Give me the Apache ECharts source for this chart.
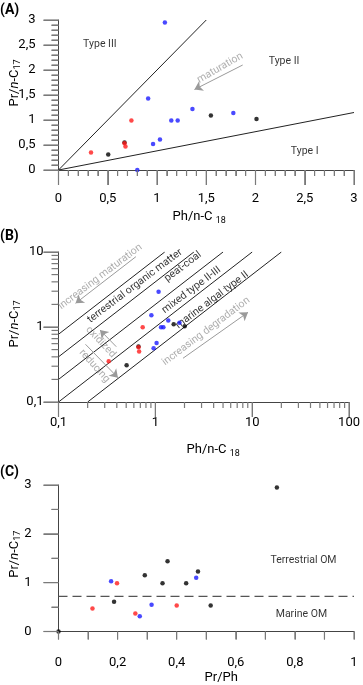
<!DOCTYPE html>
<html>
<head>
<meta charset="utf-8">
<script src="https://cdn.jsdelivr.net/npm/echarts@6/dist/echarts.min.js"></script>
<style>
  html, body { margin: 0; background: #fff; }
  #chart { width: 363px; height: 685px; }
</style>
</head>
<body>
<div id="chart"></div>
<script>
const FONT = 'Roboto';
const GRAY = '#9a9a9a';

// Ph/n-C18 vs Pr/n-C17 (panels A and B)
const blueA = [[1.08, 2.95], [0.91, 1.43], [1.36, 1.22], [1.145, 0.99], [1.21, 0.99],
  [1.775, 1.14], [1.03, 0.61], [0.96, 0.52], [0.80, 0.0]];
const redA = [[0.33, 0.35], [0.67, 0.535], [0.68, 0.47], [0.74, 0.99]];
const blackA = [[0.505, 0.31], [0.67, 0.55], [1.547, 1.09], [2.01, 1.02]];

// Pr/Ph vs Pr/n-C17 (panel C)
const blackC = [[0, 0], [0.188, 0.61], [0.292, 1.15], [0.352, 0.99], [0.369, 1.44],
  [0.432, 0.99], [0.472, 1.23], [0.515, 0.53], [0.739, 2.95]];
const blueC = [[0.178, 1.03], [0.275, 0.31], [0.315, 0.55], [0.466, 1.10]];
const redC = [[0.115, 0.47], [0.198, 0.99], [0.26, 0.37], [0.40, 0.53]];

// kerogen type boundaries (A) and Pr/Ph iso-lines (B)
const typeBounds = [[[0, 0], [1.5, 3]], [[0, 0], [3, 1.15]]];
const ratioLines = [
  [[0.1, 0.8], [1.25, 10]],
  [[0.1, 0.4], [2.5, 10]],
  [[0.1, 0.2], [5, 10]],
  [[0.1, 0.1], [10, 10]],
  [[0.2, 0.1], [20, 10]]
];
const omThreshold = 0.72;

// tick positions
const tickMajorA = [0, 0.5, 1, 1.5, 2, 2.5, 3];
const tickMinorA = [0.1, 0.2, 0.3, 0.4, 0.6, 0.7, 0.8, 0.9, 1.1, 1.2, 1.3, 1.4,
  1.6, 1.7, 1.8, 1.9, 2.1, 2.2, 2.3, 2.4, 2.6, 2.7, 2.8, 2.9];
const logMajorX = [0.1, 1, 10, 100];
const logMajorY = [0.1, 1, 10];
const logMinorX = [0.2, 0.3, 0.4, 0.5, 0.6, 0.7, 0.8, 0.9, 2, 3, 4, 5, 6, 7, 8, 9,
  20, 30, 40, 50, 60, 70, 80, 90];
const logMinorY = [0.2, 0.3, 0.4, 0.5, 0.6, 0.7, 0.8, 0.9, 2, 3, 4, 5, 6, 7, 8, 9];
const tickXC = [0, 0.1, 0.2, 0.3, 0.4, 0.5, 0.6, 0.7, 0.8, 0.9, 1];
const tickMajorYC = [0, 1, 2, 3];
const tickMinorYC = [0.5, 1.5, 2.5];

// text notes: [text, x, y, rotation deg, colour]
const notesA = [
  ['Type III', 0.42, 2.51, 0, '#000'],
  ['Type II', 2.29, 2.17, 0, '#000'],
  ['Type I', 2.5, 0.37, 0, '#000'],
  ['maturation', 1.64, 2.04, 30, GRAY]
];
const notesB = [
  ['terrestrial organic matter', 0.615, 3.52, 37, '#000'],
  ['peat-coal', 1.93, 6.37, 37, '#000'],
  ['mixed type II-III', 2.36, 3.11, 37, '#000'],
  ['marine algal type II', 3.86, 2.29, 37, '#000'],
  ['increasing maturation', 0.27, 4.68, 37, GRAY],
  ['increasing degradation', 3.34, 0.875, 37, GRAY],
  ['oxidized', 0.273, 0.63, -47, GRAY],
  ['reducing', 0.235, 0.302, -48, GRAY]
];
const notesC = [
  ['Terrestrial OM', 0.829, 1.46, 0, '#000'],
  ['Marine OM', 0.822, 0.36, 0, '#000']
];
// arrows: [from, to]
const arrowsA = [[[1.87, 2.1], [1.38, 1.61]]];
const arrowsB = [
  [[0.63, 8.66], [0.15, 2.07]],
  [[1.93, 0.383], [9.06, 1.57]],
  [[0.395, 0.546], [0.268, 0.912]],
  [[0.19, 0.588], [0.411, 0.211]]
];

const comma = (v) => String(v).replace('.', ',');
const tickColor = '#7a7a7a';
const lineColor = '#444';

const rich = {
  a: { fontSize: 13, fontFamily: FONT, color: '#000', lineHeight: 16 },
  i: { fontSize: 13, fontFamily: FONT, color: '#000', fontStyle: 'italic', lineHeight: 16 },
  s: { fontSize: 9, fontFamily: FONT, color: '#000', verticalAlign: 'bottom', lineHeight: 9 }
};
const PR_C17 = '{a|Pr/}{i|n}{a|-C}{s|17}';
const PH_C18 = '{a|Ph/n-C }{s|18}';

function xName(name, gap, padding) {
  return {
    name, nameLocation: 'middle', nameGap: gap, nameMoveOverlap: false,
    nameTextStyle: { rich, padding }
  };
}
function yName(gap, padding) {
  return {
    name: PR_C17, nameLocation: 'middle', nameGap: gap, nameRotate: 90,
    nameMoveOverlap: false, nameTextStyle: { rich, padding }
  };
}

function valueAxis(gridIndex, max, interval, tickLen, minorSplit, minorLen, margin, naming) {
  return Object.assign({
    type: 'value', gridIndex, min: 0, max, interval,
    axisLine: { show: true, lineStyle: { color: lineColor, width: 1 } },
    axisTick: { show: true, length: tickLen, lineStyle: { color: tickColor, width: 1 } },
    minorTick: {
      show: true, splitNumber: minorSplit, length: minorLen,
      lineStyle: { color: tickColor, width: 1 }
    },
    splitLine: { show: false },
    axisLabel: { margin, fontSize: 13, color: '#000', formatter: comma }
  }, naming || {});
}

function logAxis(gridIndex, max, margin, naming) {
  return Object.assign({
    type: 'log', logBase: 10, gridIndex, min: 0.1, max,
    axisLine: { show: true, onZero: false, lineStyle: { color: lineColor, width: 1 } },
    axisTick: { show: true, length: 15, lineStyle: { color: tickColor, width: 1 } },
    splitLine: { show: false },
    axisLabel: { margin, fontSize: 13, color: '#000', formatter: comma }
  }, naming || {});
}

// ticks as thin rects anchored on the axis through the axis scale
function tickSeries(values, dir, len, xi, yi, base) {
  return {
    type: 'scatter', xAxisIndex: xi, yAxisIndex: yi, silent: true, animation: false,
    clip: false, z: 4, symbol: 'rect',
    symbolSize: dir === 'x' ? [1.2, len] : [len, 1.2],
    symbolOffset: dir === 'x' ? [0, len / 2] : [-len / 2, 0],
    itemStyle: { color: tickColor, borderWidth: 0, opacity: 1, shadowBlur: 0 },
    emphasis: { disabled: true },
    data: values.map((v) => (dir === 'x' ? [v, base] : [base, v]))
  };
}

function arrowMarks(list) {
  return {
    silent: true,
    symbol: ['none', 'arrow'],
    symbolSize: 8,
    label: { show: false },
    lineStyle: { color: GRAY, width: 1, type: 'solid' },
    data: list.map(([a, b]) => [{ coord: a }, { coord: b }])
  };
}

function lineSeries(data, xi, yi, extra) {
  return Object.assign({
    type: 'line', xAxisIndex: xi, yAxisIndex: yi, data,
    symbol: 'none', silent: true, animation: false,
    lineStyle: { color: '#222', width: 1 }
  }, extra || {});
}

function dots(data, color, xi, yi) {
  return {
    type: 'scatter', xAxisIndex: xi, yAxisIndex: yi, data,
    symbolSize: 4.5, itemStyle: { color, borderWidth: 0 }, animation: false, z: 3
  };
}

function noteSeries(list, xi, yi) {
  return {
    type: 'scatter', xAxisIndex: xi, yAxisIndex: yi, silent: true, animation: false,
    clip: false, symbolSize: 1, itemStyle: { color: 'rgba(255,255,255,0)', borderWidth: 0 },
    labelLayout: { hideOverlap: false },
    data: list.map(([text, x, y, rot, color]) => ({
      name: text, value: [x, y],
      label: { rotate: rot, color }
    })),
    label: {
      show: true, position: 'inside', formatter: '{b}',
      fontSize: 10.5, fontFamily: FONT, align: 'center', verticalAlign: 'middle'
    }
  };
}

const positive = (arr) => arr.filter(([x, y]) => x > 0 && y > 0);

const series = [];
// panel A
typeBounds.forEach((seg, i) =>
  series.push(lineSeries(seg, 0, 0, i === 0 ? { markLine: arrowMarks(arrowsA) } : {})));
series.push(
  tickSeries(tickMajorA, 'x', 15, 0, 0, 0), tickSeries(tickMinorA, 'x', 6, 0, 0, 0),
  tickSeries(tickMajorA, 'y', 15, 0, 0, 0), tickSeries(tickMinorA, 'y', 7, 0, 0, 0),
  dots(blackA, '#000', 0, 0), dots(blueA, '#1c1cff', 0, 0), dots(redA, '#ff1c1c', 0, 0),
  noteSeries(notesA, 0, 0)
);
// panel B
ratioLines.forEach((seg, i) =>
  series.push(lineSeries(seg, 1, 1, i === 0 ? { markLine: arrowMarks(arrowsB) } : {})));
series.push(
  tickSeries(logMajorX, 'x', 15, 1, 1, 0.1), tickSeries(logMinorX, 'x', 6, 1, 1, 0.1),
  tickSeries(logMajorY, 'y', 15, 1, 1, 0.1), tickSeries(logMinorY, 'y', 7, 1, 1, 0.1),
  dots(positive(blackA), '#000', 1, 1), dots(positive(blueA), '#1c1cff', 1, 1),
  dots(positive(redA), '#ff1c1c', 1, 1),
  noteSeries(notesB, 1, 1)
);
// panel C
series.push(
  lineSeries([[0, omThreshold], [1, omThreshold]], 2, 2,
    { lineStyle: { color: '#555', width: 1.2, type: [9, 5] } }),
  tickSeries(tickXC, 'x', 8, 2, 2, 0),
  tickSeries(tickMajorYC, 'y', 15, 2, 2, 0), tickSeries(tickMinorYC, 'y', 7, 2, 2, 0),
  dots(blackC, '#000', 2, 2), dots(blueC, '#1c1cff', 2, 2), dots(redC, '#ff1c1c', 2, 2),
  noteSeries(notesC, 2, 2)
);

const panelTag = (top, text) => ({
  text, left: 0, top, padding: 0,
  textStyle: { fontSize: 14, fontWeight: 'bold', fontFamily: FONT, color: '#000' }
});

const chart = echarts.init(document.getElementById('chart'));
chart.setOption({
  animation: false,
  textStyle: { fontFamily: FONT },
  title: [panelTag(3, '(A)'), panelTag(229, '(B)'), panelTag(465, '(C)')],
  grid: [
    { left: 56, top: 20, width: 298, height: 150 },
    { left: 56, top: 252, width: 297, height: 150 },
    { left: 56, top: 485, width: 298, height: 150 }
  ],
  xAxis: [
    valueAxis(0, 3, 0.5, 15, 5, 6, 22, xName(PH_C18, 39, [0, 14, 0, 0])),
    logAxis(1, 100, 14, xName(PH_C18, 40, [0, 0, 0, 19])),
    valueAxis(2, 1, 0.2, 8, 2, 8, 25, xName('{a|Pr/Ph}', 38, [0, 0, 0, 30]))
  ],
  yAxis: [
    valueAxis(0, 3, 0.5, 15, 5, 7, 23, yName(36, [0, 0, 0, 24])),
    logAxis(1, 10, 15, yName(36, [0, 0, 0, 6])),
    valueAxis(2, 3, 1, 15, 2, 7, 27, yName(36, [0, 0, 0, 8]))
  ],
  series
});
</script>
</body>
</html>
